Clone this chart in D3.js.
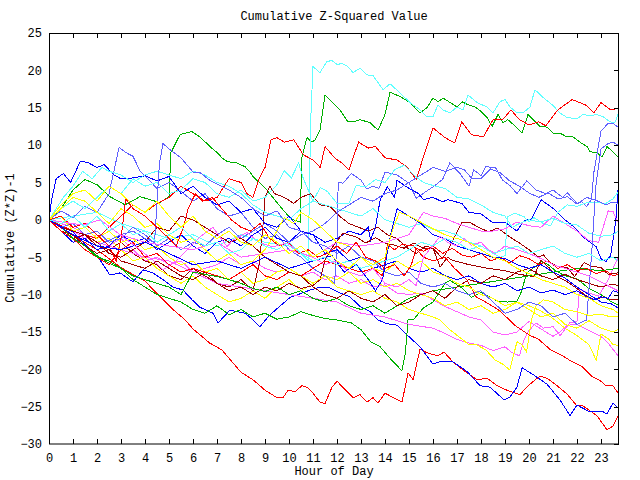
<!DOCTYPE html>
<html>
<head>
<meta charset="utf-8">
<script src="https://cdn.jsdelivr.net/npm/d3@7"></script>
<style>
  body { margin: 0; background: #fff; }
  text { font-family: "Liberation Mono", monospace; font-size: 12px; fill: #000; }
</style>
</head>
<body>
<div id="chart"></div>
<script>
// Hour ticks along the bottom, value ticks on the left
var hourTicks = d3.range(0, 24);
var valueTicks = [-30, -25, -20, -15, -10, -5, 0, 5, 10, 15, 20, 25];

// Each series is a list of [hour, cumulative value]
var red1 = [[0,0],[1,-2.1],[2,-4.0],[3,-6.4],[4,-8.2],[4.6,-10.2],[5.17,-12.0],[5.67,-13.4],[6,-14.6],[6.7,-16.5],[7.2,-17.4],[8,-20.4],[8.5,-21.4],[9,-22.8],[9.5,-23.8],[9.75,-23.8],[9.96,-22.8],[10.25,-23.0],[10.54,-22.2],[10.75,-22.4],[11,-23.2],[11.29,-24.4],[11.5,-24.6],[11.79,-22.4],[12,-21.6],[12.67,-23.8],[12.96,-23.4],[13.25,-24.4],[13.5,-23.8],[13.71,-24.5],[14,-23.2],[14.71,-24.4],[14.96,-20.5],[15.17,-21.4],[15.46,-17.3],[15.75,-17.8],[16.2,-18.2],[16.46,-17.7],[16.83,-19.0],[17.25,-20.1],[17.83,-21.4],[18.25,-21.2],[18.67,-22.2],[19.08,-22.8],[19.62,-23.4],[19.96,-22.2],[20.46,-20.9],[20.75,-21.2],[21.17,-22.2],[21.58,-23.3],[22,-24.9],[22.25,-24.9],[22.83,-26.2],[23.25,-28.1],[23.5,-27.6],[23.71,-26.2]];
var red2 = [[0,0],[1,-1.5],[2,-2.5],[3,0.5],[3.5,2],[4,1],[4.5,2.2],[5,3.0],[5.5,4.5],[6,3.5],[6.5,2.5],[7,3.0],[7.5,5.5],[8,5.0],[8.25,3.5],[8.5,3.0],[8.75,5.5],[9,7.0],[9.25,10.7],[9.5,11.0],[9.8,10.4],[10.2,10.7],[10.6,8.7],[11,8.0],[11.3,7.0],[11.5,9.8],[11.9,8.3],[12.2,7.6],[12.5,6.7],[12.9,10.4],[13.3,9.6],[13.6,9.8],[14,8.3],[14.5,8.0],[14.9,7.1],[15.3,5.4],[15.6,8.4],[16,12.3],[16.5,11.0],[16.9,10.3],[17.2,13.1],[17.6,11.4],[18.1,11.1],[18.5,13.4],[18.9,13.4],[19.25,14.7],[19.6,13.4],[20,12.7],[20.4,13.1],[20.7,12.6],[21.2,14.7],[21.8,16.1],[22.4,15.3],[22.7,14.3],[23,15.7],[23.4,14.7],[23.71,14.9]];
var red3 = [[0,0],[0.5,-1.5],[1,-2.5],[1.5,-4.0],[2,-5.0],[2.5,-6.0],[3,-4.0],[3.5,-3.0],[4,-5.0],[4.5,-4.5],[5,-6.0],[5.5,-7.0],[6,-6.5],[7,-7.5],[7.5,-8.0],[8,-7.0],[8.5,-6.0],[9,-7.5],[9.5,-8.0],[10,-7.0],[10.5,-7.5],[11,-6.5],[11.5,-5.5],[12,-6.0],[12.5,-6.5],[13,-7.0],[13.5,-6.5],[13.9,-7.5],[14.1,-3.3],[14.4,-4.0],[14.7,-3.3],[15.2,-3.5],[15.6,-5.0],[16,-5.5],[16.5,-5.0],[16.9,-6.5],[17.4,-8.0],[17.8,-10.3],[18.3,-11.2],[18.8,-12.2],[19.4,-14.1],[20,-15.4],[20.4,-16.0],[20.9,-17.4],[21.4,-18.2],[21.8,-19.0],[22.2,-19.6],[22.6,-20.9],[23,-21.6],[23.2,-22.2],[23.5,-22.2],[23.71,-23.2]];
var red4 = [[0,0],[0.5,0.5],[1,-1.0],[1.5,-0.5],[2,-2.0],[2.5,-3.5],[2.8,-5.5],[3,-2.5],[3.2,2.8],[3.5,1.5],[4,0.5],[4.5,-1.0],[5,-2.5],[5.3,-3.5],[5.6,-1.0],[5.8,1.5],[6.1,3.5],[6.4,2.5],[6.8,3.0],[7.2,1.5],[7.6,0.0],[8,-1.0],[8.4,-1.5],[8.8,-0.5],[9.2,-2.5],[9.6,-3.5],[10,-3.0],[10.4,-4.5],[10.8,-4.0],[11.2,-5.0],[11.6,-4.5],[12,-3.5],[12.4,-4.5],[12.8,-3.0],[13.2,-5.0],[13.6,-5.5],[14,-6.5],[14.4,-6.0],[14.8,-7.5],[15.1,-6.0],[15.3,-3.8],[15.6,-4.2],[16,-3.5],[16.4,-4.5],[16.8,-3.8],[17.2,-4.7],[17.6,-5.0],[18,-4.5],[18.4,-5.5],[18.8,-5.0],[19.2,-5.8],[19.6,-4.8],[20,-5.2],[20.4,-6.0],[20.8,-5.5],[21.2,-6.5],[21.6,-6.0],[22,-6.8],[22.4,-6.5],[22.8,-7.2],[23.2,-6.8],[23.5,-7.5],[23.71,-7.3]];

var green1 = [[0,0],[0.46,1.3],[1,4.0],[1.5,5.4],[2,4.7],[2.54,3.1],[3.17,2.0],[3.79,3.1],[4.62,2.3],[5,3.1],[5.08,9.0],[5.46,11.4],[5.67,11.6],[5.96,11.8],[6.29,11.1],[6.71,9.8],[7,9.0],[7.21,8.3],[7.42,7.8],[7.83,7.6],[8.17,7.1],[8.38,6.4],[8.5,5.8],[9.08,4.0],[9.5,2.3],[9.92,0.7],[10.17,0],[10.46,-0.3],[10.54,8.4],[10.75,11.0],[10.96,10.4],[11.08,10.7],[11.29,12.0],[11.5,16.7],[11.79,15.8],[12.12,14.7],[12.46,13.1],[12.67,13.1],[12.96,13.4],[13.38,13.0],[13.71,12.0],[14,14.1],[14.21,17.1],[14.62,16.5],[15.04,15.7],[15.46,14.3],[15.75,15.0],[16,16.3],[16.21,15.8],[16.42,16.3],[16.71,15.7],[17,15.1],[17.21,15.8],[17.46,15.4],[17.75,15.1],[18,14.5],[18.25,13.7],[18.46,12.5],[18.71,14.1],[18.92,13.0],[19.12,13.4],[19.33,12.8],[19.71,11.6],[19.96,14.1],[20.17,13.4],[20.46,12.5],[20.75,12.4],[21,11.6],[21.29,11.6],[21.58,11.1],[21.83,11.1],[22.12,10.4],[22.42,9.8],[22.54,9.1],[22.83,9.0],[23.04,8.4],[23.25,9.8],[23.5,9.1],[23.71,8.4]];
var green2 = [[0,0],[0.5,-1.5],[1,-2.5],[1.5,-3.5],[2,-4.8],[2.5,-5.8],[3,-6.5],[3.5,-8],[4,-9],[4.5,-10],[5,-10.5],[5.5,-11],[6,-12],[6.5,-12.5],[7,-11.5],[7.5,-12.7],[8,-12],[8.5,-13],[9,-12.5],[9.5,-13.3],[10,-13],[10.5,-12.3],[11,-12.8],[11.5,-13.2],[12,-13.4],[12.3,-13.6],[12.6,-13.8],[13,-14.7],[13.4,-16.3],[13.8,-17],[14.2,-18.5],[14.5,-19.5],[14.7,-20.2],[14.85,-17.8],[14.96,-13.4],[15.2,-13.3],[15.6,-11.8],[16,-11],[16.2,-10],[16.5,-8.5],[16.7,-8.1],[17.2,-9.1],[17.6,-10.4],[18,-9.7],[18.3,-10.2],[18.7,-10.9],[19.1,-11],[19.5,-10.9],[19.7,-9.5],[19.9,-7.1],[20.2,-6.4],[20.5,-5.6],[20.8,-6.0],[21.1,-6.8],[21.5,-7.5],[22,-7.9],[22.5,-9.2],[23,-10.0],[23.4,-10.9],[23.71,-11.4]];
var green3 = [[0,0],[0.5,-1],[1,-2.5],[1.5,-3.5],[2,-5.0],[2.5,-5.5],[3,-6.5],[3.5,-7.5],[4,-8.0],[4.5,-8.5],[5,-9.0],[5.5,-10.0],[6,-7.0],[6.5,-7.3],[7,-7.6],[7.5,-8.0],[8,-8.5],[8.5,-9.2],[9,-9.6],[9.5,-9.0],[10,-10.0],[10.5,-9.5],[11,-10.5],[11.5,-11.0],[12,-10.5],[12.5,-11.5],[13,-12.0],[13.5,-11.5],[14,-12.5],[15,-10.5],[16,-9.5],[17,-9.0],[18,-8.5],[19,-8.0],[20,-7.5],[21,-7.0],[22,-6.5],[23,-6.8],[23.71,-6.5]];

var blue1 = [[0,0],[1,-1.6],[2.13,-5.4],[2.54,-7.4],[2.96,-7.1],[3.5,-8.3],[3.92,-6.7],[4.33,-7.1],[4.75,-8.0],[5.17,-9.0],[5.58,-9.4],[5.96,-10.7],[6.29,-11.7],[6.83,-12.5],[7.04,-13.8],[7.54,-12.1],[8.17,-12.5],[8.5,-13.4],[8.79,-14.3],[9.21,-12.7],[10.04,-10.4],[10.88,-9.4],[11.29,-9.0],[11.71,-9.1],[12.12,-9.8],[12.54,-10.3],[12.96,-11.6],[13.38,-12.3],[13.71,-13.4],[14.08,-13.9],[14.5,-14.1],[14.92,-15.4],[15.46,-17.0],[16,-19.3],[16.29,-19.0],[16.83,-19.0],[17.42,-20.3],[17.96,-22.2],[18.38,-22.4],[18.96,-24.1],[19.21,-23.7],[19.5,-22.4],[19.71,-19.8],[20.17,-20.7],[20.75,-22.0],[21.29,-24.1],[21.71,-26.2],[22,-24.8],[22.54,-25.7],[23.04,-25.6],[23.25,-26.0],[23.5,-24.5],[23.71,-25.2]];
var blue2 = [[0,0],[0.5,-1.5],[1,-3],[1.5,-2.5],[2,-4],[2.5,-3.5],[3,-2],[3.5,-3],[4,-2.5],[4.5,-4],[5,-3],[5.5,-2],[6,-3.5],[6.5,-4.5],[7,-3],[7.5,-2.5],[8,-3.5],[8.5,-2],[9,-1.0],[9.5,-2.5],[10,-3],[10.5,-1.5],[11,-2],[11.5,-3.0],[12,-2.5],[12.5,-1.5],[13,-2.0],[13.3,-1.0],[13.4,-2.7],[13.6,-1.0],[13.8,2.7],[14.1,4.4],[14.4,3.0],[14.5,5.3],[14.9,4.4],[15.4,3.5],[15.6,2.7],[16,3.0],[16.4,2.4],[16.6,2.7],[17.2,2.2],[17.5,1.0],[18,0.8],[18.5,-0.4],[19,-0.3],[19.5,-1.5],[19.8,-0.1],[20.1,0.1],[20.5,2.7],[20.8,2.0],[21.1,1.3],[21.5,0],[21.9,-1.0],[22.3,-2.4],[22.8,-3.6],[23,-5.2],[23.2,-5.6],[23.4,-4.8],[23.5,-2.7],[23.62,0],[23.71,4.0]];
var blue3 = [[0,0],[0.1,2.6],[0.3,5.5],[0.6,6.2],[0.9,5.0],[1.3,7.8],[1.6,7.7],[2,7.0],[2.3,7.4],[2.7,6.0],[3,5.5],[3.5,5.6],[4,5.9],[4.5,5.2],[5,5.8],[5.5,3.5],[6,4.5],[6.5,3.0],[7,2.0],[7.5,2.5],[8,1.0],[8.5,1.5],[9,-0.5],[9.5,-1.0],[10,0.5],[10.5,-1.5],[11,-2.0],[11.5,-4.5],[12,-4.0],[12.5,-5.5],[13,-5.0],[13.5,-6.5],[14,-6.0],[14.5,-5.5],[15,-6.5],[15.5,-7.0],[16,-6.5],[16.5,-7.5],[17,-8.0],[17.5,-7.5],[18,-8.5],[18.5,-9.0],[19,-8.5],[19.5,-9.5],[20,-9.0],[20.5,-9.8],[21,-9.4],[21.5,-10.0],[22,-9.5],[22.4,-10.3],[22.7,-10.7],[23,-10.3],[23.3,-10.5],[23.5,-9.5],[23.71,-9.7]];
var blue4 = [[0,0],[1,-2],[2,-3.5],[3,-4],[4,-3],[5,-4.5],[6,-6],[7,-5.5],[8,-6.5],[9,-5],[10,-6.5],[11,-5.5],[11.8,-4.8],[12.3,-7],[12.8,-6],[13.3,-8.0],[13.6,-9.5],[13.9,-8.0],[14.2,-2.5],[14.5,1.5],[15,0.5],[15.5,-0.5],[16,-2.0],[16.5,-2.5],[17,-3.5],[17.5,-4.0],[18,-4.5],[18.5,-5.0],[19,-5.2],[19.5,-6.0],[20,-6.5],[20.5,-6.0],[21,-7.0],[21.5,-7.8],[22,-9.0],[22.5,-10.0],[23,-11.0],[23.4,-11.2],[23.71,-11.8]];

var magenta1 = [[0,0],[0.5,-1],[1,-1.5],[1.5,-2.5],[2,-2.0],[2.5,-3.5],[3,-2.5],[3.5,-4.0],[4,-5.5],[4.5,-5],[5,-6],[5.5,-5.5],[6,-7],[6.5,-6.5],[7,-6.0],[7.5,-5.0],[8,-6.0],[8.5,-5.5],[9,-6.5],[9.5,-7.0],[10,-6.5],[10.5,-7.5],[11,-7.0],[11.5,-8.0],[12,-7.5],[12.5,-8.5],[13,-8.0],[13.5,-9.0],[14,-8.7],[14.5,-9.8],[15,-10],[15.5,-9.8],[16,-10.7],[16.5,-11.6],[17,-12.3],[17.5,-13],[18,-13.4],[18.5,-15],[19,-15.4],[19.5,-15],[20,-13.6],[20.5,-14.6],[21,-15.6],[21.3,-15],[21.6,-14.1],[22,-14],[22.5,-14.8],[23,-15.6],[23.3,-16.5],[23.71,-18.2]];
var magenta2 = [[0,0],[1,-1.0],[2,-3.0],[3,-4],[4,-5],[5,-5.5],[6,-7],[7,-8.5],[8,-9],[9,-9.5],[10,-10],[11,-10.5],[12,-11],[13,-12.5],[14,-13],[15,-14],[16,-14.5],[16.5,-15.2],[17,-16.0],[17.5,-16.5],[18,-16.8],[18.5,-17.5],[19,-17.0],[19.3,-17.8],[19.6,-18.2],[19.8,-16],[20,-14.8],[20.3,-13.8],[20.6,-14.5],[21,-14.3],[21.3,-15.5],[21.7,-13.8],[22,-13.6],[22.1,-9.3],[22.5,-9.8],[22.9,-10.2],[23.3,-8.0],[23.71,-5.0]];
var magenta3 = [[0,0],[1,-2],[2,-3.5],[3,-2],[4,-3],[5,-3.5],[6,-4],[7,-3],[8,-5],[9,-4.5],[10,-4],[11,-5],[12,-3],[13,-3.5],[14,-3],[15,-2],[15.6,1.0],[16,0.5],[16.5,0.2],[17,-0.5],[17.5,-1.0],[18,-1.5],[18.5,-1.5],[19,-1.2],[19.5,-0.3],[20,-0.8],[20.5,-1.0],[21,0.5],[21.5,-0.5],[22,-1.5],[22.5,-2.8],[22.9,-3.0],[23.3,1.2],[23.5,1.1],[23.71,-0.3]];
var magenta4 = [[0,0],[0.75,-0.4],[1.42,-0.7],[2.13,0],[2.67,-1.3],[3.25,-2.7],[3.79,-4.0],[4.33,-5.4],[4.75,-6.7],[5.33,-5.4],[5.88,-3.6],[6.29,-2.3],[6.83,-1.0],[7.42,-3.6],[7.67,-2.7],[8.25,-1.7],[8.79,-3.1],[9.33,-3.6],[9.92,-3.1],[10.46,-4.4],[11,-5.0],[11.5,-6],[12,-5.5],[12.5,-7],[13,-7.5],[13.5,-6.5],[14,-8.5],[14.5,-9.0],[15,-8.0],[15.3,-8.8],[15.6,-5.0],[16,-3.4],[16.3,-2.2],[16.6,-3.0],[17,-3.5],[17.3,-2.5],[17.6,-3.4],[18,-3.0],[18.3,-4.0],[18.6,-4.5],[19,-3.5],[19.5,-4.0],[20,-4.5],[20.5,-5.2],[21,-6.0],[21.5,-6.5],[22,-7.0],[22.5,-7.5],[23,-8.3],[23.4,-9.0],[23.71,-9.5]];

var cyan1 = [[0,0],[1,0.5],[2,1.0],[3,-0.5],[4,-1.5],[5,-2.5],[6,-2.0],[7,-3.5],[8,-2.0],[9,-3.0],[10,-3.5],[10.5,-4.5],[10.8,-5.5],[10.9,13],[11,20.5],[11.29,19.7],[11.58,21.2],[11.79,21.3],[12,20.8],[12.21,20.9],[12.42,20.6],[12.67,19.7],[12.96,20.3],[13.25,19.4],[13.5,19.3],[13.92,17.4],[14.21,18.2],[14.62,17.0],[15.04,15.7],[15.46,14.7],[15.75,13.8],[16,13.8],[16.21,15.4],[16.42,14.7],[16.71,14.3],[17,15.1],[17.25,14.7],[17.46,16.7],[17.83,15.7],[18.25,15.1],[18.5,14.3],[18.79,15.8],[19,16.1],[19.21,15.1],[19.5,14.3],[19.75,14.3],[20.04,15.1],[20.25,17.4],[20.58,16.4],[21,15.3],[21.29,14.3],[21.58,13.7],[22,13.5],[22.25,14.1],[22.54,13.9],[22.83,14.1],[23.08,13.8],[23.38,13.1],[23.58,13.0],[23.71,14.1]];
var cyan2 = [[0,0],[0.5,1.5],[1,2.5],[1.5,1.5],[2,3.0],[2.5,4.5],[3,3.5],[3.5,5.5],[4,4.5],[4.5,5.0],[5,3.5],[5.5,4.0],[6,5.5],[6.5,5.0],[7,3.5],[7.5,3.0],[8,4.0],[8.5,2.5],[9,3.0],[9.5,4.7],[9.8,6.6],[10.1,5.6],[10.4,7.6],[10.6,5.5],[10.8,4.0],[11,2.5],[11.5,2.0],[12,1.5],[12.5,1.0],[13,0.5],[13.5,1.5],[14,0.0],[14.5,-0.5],[15,-1.0],[15.5,-0.5],[16,-1.3],[16.5,-1.5],[17,-2.0],[17.5,-3.0],[18,-3.5],[18.5,-4.5],[18.8,-5.0],[19,-4.8],[19.1,0.4],[19.4,0.9],[19.8,0.4],[20,-0.3],[20.2,0.3],[20.6,-0.5],[20.9,-0.8],[21.2,1.0],[21.6,2.0],[22,1.8],[22.4,2.3],[22.8,2.3],[23.2,2.2],[23.5,2.8],[23.71,3.7]];
var cyan3 = [[0,0],[0.3,1.5],[0.6,3.0],[1,4.5],[1.4,6.5],[1.8,5.5],[2.2,7.0],[2.5,6.5],[3,6.0],[3.5,5.0],[4,6.0],[4.5,6.5],[5,6.0],[5.5,5.5],[6,6.5],[6.5,6.0],[7,5.0],[7.5,4.5],[8,3.5],[8.5,2.0],[9,1.0],[9.5,0.5],[10,0.0],[10.5,1.5],[11,2.5],[11.3,4.3],[11.6,3.8],[12,2.2],[12.5,2.2],[12.8,4.6],[13.2,4.4],[13.6,5.4],[14,5.0],[14.4,6.7],[14.8,7.3],[15.2,6.0],[15.6,5.0],[16,4.6],[16.5,4.2],[17,3.0],[17.5,2.8],[18,2.0],[18.5,1.0],[19,0.5],[19.3,-1.0],[19.6,-0.5],[20,0.0],[20.5,-0.3],[21,0.2],[21.5,-0.5],[22,-0.7],[22.5,-1.8],[23,-2.2],[23.5,-2.0],[23.71,-1.5]];
var cyan4 = [[0,0],[0.5,-0.5],[1,0.5],[1.5,-1],[2,0.5],[2.5,-1.5],[3,-0.5],[3.5,-2.0],[4,-1.5],[4.5,-3.0],[5,-2.0],[5.5,-1.0],[6,-2.5],[6.5,-3.5],[7,-3.0],[7.5,-4.5],[8,-4.0],[8.5,-2.5],[9,-3.5],[9.5,-4.0],[10,-3.0],[10.5,-4.5],[11,-5.5],[11.5,-5.0],[12,-6.0],[12.5,-5.5],[13,-6.5],[13.5,-6.0],[14,-5.5],[14.5,-5.0],[15,-4.0],[15.5,-3.0],[16,-3.5],[16.5,-2.5],[17,-3.0],[17.5,-4.0],[18,-3.5],[18.5,-4.5],[19,-4.0],[19.5,-3.5],[20,-4.5],[20.5,-4.0],[21,-3.5],[21.5,-4.5],[22,-5.0],[22.5,-4.5],[23,-5.5],[23.5,-5.0],[23.71,-5.5]];

var darkred1 = [[0,0],[0.5,-1.0],[1,-2.5],[1.5,-2.0],[2,-3.5],[2.5,-4.0],[3,-3.0],[3.5,-4.5],[4,-5.5],[4.5,-6.0],[5,-7.5],[5.5,-8.0],[6,-6.5],[6.5,-7.5],[7,-8.5],[7.5,-9.0],[8,-8.0],[8.5,-9.5],[8.75,-6.0],[8.9,-1.5],[9,3.0],[9.2,4.5],[9.4,3.5],[9.8,3.0],[10.2,2.2],[10.5,3.0],[10.9,3.5],[11.3,2.0],[11.7,1.8],[12.1,0.5],[12.5,-0.5],[12.9,-1.0],[13.3,-1.5],[13.7,-1.0],[14.1,-2.0],[14.5,-2.5],[14.9,-3.7],[15.3,-4.5],[15.7,-3.5],[16,-3.8],[16.4,-5.2],[16.7,-3.6],[17.2,-0.3],[17.5,-0.3],[17.9,-1.0],[18.3,-1.6],[18.7,-1.1],[19.2,-2.3],[19.6,-3.1],[20,-4.0],[20.4,-5.0],[20.6,-4.7],[20.9,-5.8],[21.3,-6.4],[21.6,-6.4],[21.9,-7.6],[22.3,-5.7],[22.6,-6.2],[23,-6.4],[23.3,-7.3],[23.71,-7.1]];
var darkred2 = [[0,0],[0.5,-1.5],[1,-2.0],[1.5,-3.5],[2,-4.5],[2.5,-4.0],[3,-5.5],[3.5,-6.0],[4,-6.5],[4.5,-5.5],[5,-6.5],[5.5,-7.5],[6,-8.0],[6.5,-7.0],[7,-8.5],[7.5,-9.5],[8,-9.0],[8.5,-10.0],[9,-9.0],[9.5,-9.5],[10,-8.5],[10.5,-9.2],[11,-8.8],[11.3,-8.0],[11.5,-5.4],[11.8,-3.7],[12.25,-1.8],[12.8,-2.3],[13.2,-3.1],[13.6,-2.4],[14,-3.1],[14.4,-3.4],[14.8,-3.8],[15.2,-3.1],[15.6,-3.8],[16,-3.8],[16.3,-6.3],[16.6,-5.0],[16.8,-5.4],[17.5,-6.0],[18.3,-6.5],[19,-6.8],[19.6,-7.3],[20.2,-7.6],[20.5,-5.4],[20.8,-6.3],[21.2,-7.6],[21.6,-8.3],[22,-9.2],[22.3,-10.0],[22.7,-10.7],[23.1,-10.3],[23.4,-10.7],[23.71,-10.7]];
var darkred3 = [[0,0],[0.5,-1],[1,-1.5],[1.5,-2],[2,-3],[2.5,-4.5],[3,-5],[3.5,-4],[4,-3],[4.5,-1.0],[5,-1.5],[5.5,0.5],[6,0.0],[6.5,-1.0],[7,-2.0],[7.5,-3.0],[8,-2.5],[8.5,-3.5],[9,-5.0],[9.5,-6.0],[10,-7.0],[10.5,-7.5],[11,-9],[11.5,-10],[12,-10.5],[12.5,-9.5],[13,-10.5],[13.5,-11],[14,-10],[14.5,-11.5],[15,-11.0],[15.5,-10],[16,-9.5],[16.5,-10.5],[17,-9.0],[17.5,-8.0],[18,-8.5],[18.5,-7.5],[19,-8.0],[19.5,-7.0],[20,-6.5],[20.5,-7.5],[21,-8.0],[21.5,-7.3],[22,-8.0],[22.5,-8.5],[23,-9.0],[23.5,-8.6],[23.71,-8.8]];

var yellow1 = [[0,0],[0.5,-1],[1,-0.5],[1.5,-2],[2,-3],[2.5,-2.5],[3,-4],[3.5,-5.5],[4,-5],[4.5,-6.5],[5,-7.5],[5.5,-8.5],[6,-7.5],[6.5,-9],[7,-10],[7.5,-11],[8,-10.5],[8.5,-9.5],[9,-10.5],[9.5,-9.0],[10,-8.0],[10.5,-9.5],[11,-8.5],[11.5,-7.5],[12,-8.0],[12.5,-7.0],[13,-8.5],[13.5,-8.0],[14,-9.0],[14.5,-8.5],[15,-9.5],[15.5,-10.0],[16,-10.5],[16.5,-11.5],[17,-11.0],[17.5,-12.0],[18,-11.5],[18.5,-12.5],[19,-12.0],[19.5,-11.0],[20,-11.5],[20.5,-12.2],[21,-13.2],[21.5,-14.5],[22,-15.5],[22.5,-16.7],[22.8,-18.8],[23,-15.3],[23.3,-15.9],[23.5,-16.7],[23.71,-16.8]];
var yellow2 = [[0,0],[0.5,0.5],[1,-1.5],[1.5,-1.0],[2,-2.5],[2.5,-1.5],[3,-3.0],[3.5,-2.5],[4,-4.0],[4.5,-3.5],[5,-5.0],[5.5,-6.0],[6,-5.5],[6.5,-7.0],[7,-6.5],[7.5,-8.0],[8,-7.0],[8.5,-8.5],[9,-8.0],[9.5,-7.0],[10,-6.5],[10.5,-7.5],[11,-8.5],[11.5,-7.5],[12,-9.0],[12.5,-9.5],[13,-10.0],[13.5,-9.5],[14,-10.5],[14.5,-11.0],[15,-12.0],[15.5,-12.5],[16,-13.0],[16.3,-13.4],[16.7,-14.7],[17.1,-15.7],[17.5,-16.7],[17.8,-16.7],[18.2,-17.4],[18.6,-18.8],[18.9,-19.3],[19.2,-20.1],[19.5,-16.3],[19.7,-16.7],[19.9,-17.7],[20.1,-13.4],[20.3,-11.5],[20.6,-10.7],[21,-11.0],[21.5,-12.0],[22,-12.3],[22.5,-12.8],[23,-12.6],[23.4,-13.0],[23.71,-13.0]];
var yellow3 = [[0,0],[0.5,1.5],[1,3],[1.5,2.5],[2,1],[2.5,-0.5],[3,1.5],[3.5,0.5],[4,-1],[4.5,-0.5],[5,-2.0],[5.5,-3],[6,-2.5],[6.5,-4.0],[7,-5.5],[7.5,-4.5],[8,-6],[8.5,-5.5],[9,-4.0],[9.5,-1.5],[9.8,0.3],[10.2,-0.5],[10.5,1.0],[11,0],[11.5,-1.5],[12,-3.0],[12.5,-3.5],[13,-5],[13.5,-6.5],[14,-7.0],[14.5,-5.5],[15,-6.5],[15.5,-5.5],[16,-7.0],[16.5,-7.5],[17,-8.5],[17.5,-9.0],[18,-10.0],[18.5,-10.5],[19,-11.5],[19.5,-11.0],[20,-12.0],[20.5,-13.0],[21,-12.5],[21.5,-14],[22,-14.5],[22.5,-13.5],[23,-14.5],[23.5,-15],[23.71,-14.7]];
var yellow4 = [[0,0],[0.5,2.0],[1,3.5],[1.5,4.0],[2,2.5],[2.5,4.5],[3,3.5],[3.5,2.0],[4,1.0],[4.5,2.5],[5,0.5],[5.5,-1],[6,0.5],[6.5,-1.5],[7,-2.5],[7.5,-1.5],[8,-3],[8.5,-3.5],[9,-2.0],[9.5,-3.0],[10,-4.5],[10.5,-3.5],[11,-5.0],[11.5,-4.0],[12,-5.5],[12.5,-6.5],[13,-5.0],[13.5,-6.0],[14,-5.0],[14.3,-1.5],[14.6,1.0],[15,0.5],[15.3,0.0],[15.6,-0.5],[16,-1.2],[16.5,-2.0],[17,-2.5],[17.5,-3.0],[18,-4.0],[18.5,-5.0],[19,-5.5],[19.5,-6.5],[20,-7.2],[20.5,-8.0],[21,-8.5],[21.5,-9.0],[22,-10],[22.5,-10.5],[23,-11.5],[23.5,-12],[23.71,-12.5]];

var slate1 = [[0,0],[0.5,1.2],[1,0.3],[1.5,1.8],[2,1.0],[2.5,3.5],[2.92,9.7],[3.2,9.0],[3.5,8.5],[3.8,6.5],[4.2,5.2],[4.5,4.2],[5,5.0],[5.5,3.8],[6,2.5],[6.5,3.5],[7,1.5],[7.5,0.5],[8,1.0],[8.5,-1.0],[9,-2.5],[9.5,-2.0],[10,-4.0],[10.5,-5.0],[11,-6.5],[11.5,-7.5],[11.9,-8.5],[12,-3.0],[12.05,5.0],[12.25,4.9],[12.6,6.2],[13,5.3],[13.25,4.1],[13.5,4.5],[13.75,4.2],[14,6.4],[14.5,6.0],[15,4.9],[15.3,2.9],[15.5,3.3],[15.8,4.0],[16,4.4],[16.4,5.4],[16.7,7.6],[17.1,6.3],[17.5,4.5],[17.7,6.7],[18,5.9],[18.2,7.1],[18.6,7.0],[18.9,5.3],[19.2,4.6],[19.5,3.5],[19.9,5.2],[20.3,4.0],[20.7,3.5],[21,4.0],[21.4,3.0],[21.6,3.6],[22,2.2],[22.2,2.4],[22.4,1.8],[22.6,2.7],[22.7,6.3],[23,11.9],[23.3,12.9],[23.5,12.9],[23.71,12.4]];
var slate2 = [[0,0],[0.5,-1],[1,-0.5],[1.5,-2],[2,-1.5],[2.5,-3],[3,-2.5],[3.5,-1.0],[4,-2.0],[4.5,-3.5],[5,-2.5],[5.5,-4.0],[6,-3.0],[6.5,-3.5],[7,-2.0],[7.5,-1.0],[8,-2.5],[8.5,-1.5],[9,-0.5],[9.5,-1.5],[10,-3],[10.5,-2.0],[11,-1.5],[11.5,-0.5],[12,1.0],[12.5,2.0],[13,3.0],[13.5,2.5],[14,3.5],[14.5,4.0],[15,5.0],[15.5,6.0],[16,7.0],[16.5,6.5],[17,7.0],[17.3,6.7],[17.6,5.6],[18,5.5],[18.4,6.8],[18.8,6.3],[19.2,5.2],[19.6,4.5],[20,3.6],[20.4,3.0],[20.8,3.6],[21.2,2.8],[21.6,3.1],[22,2.1],[22.4,3.0],[22.8,2.6],[23.2,2.0],[23.5,2.4],[23.71,2.2]];
var slate3 = [[0,0],[1,-2],[2,-3.5],[3,-2],[3.5,-1.5],[4,-2.5],[4.4,-3],[4.6,7.5],[4.75,10.2],[5,9.5],[5.5,8.3],[6,6.4],[6.3,6.3],[6.7,5.3],[7.5,4.0],[8,3],[8.5,1.5],[9,0.5],[9.5,1.2],[10,-1],[10.5,-1.5],[11,-3.0],[11.5,-3.5],[12,-4.5],[12.5,-3.5],[13,-5],[13.5,-5.5],[14,-7],[14.5,-7.5],[15,-7],[15.5,-8.5],[16,-9],[16.5,-8.5],[17,-9.5],[17.5,-10],[18,-9.5],[18.5,-11],[19,-12.5],[19.5,-12],[20,-11],[20.5,-11.5],[21,-13],[21.5,-12.5],[22,-14],[22.4,-13.4],[22.6,-5],[22.8,5.0],[23,9.5],[23.3,10.2],[23.5,10.4],[23.71,10.0]];

var seriesList = [red1, green1, blue1, magenta1, cyan1, darkred1, yellow1, slate1,
                  red2, green2, blue2, magenta2, cyan2, darkred2, yellow2, slate2,
                  red3, green3, blue3, magenta3, cyan3, darkred3, yellow3, slate3,
                  red4, blue4, magenta4, cyan4, yellow4];

// gnuplot-like line colours, same order as seriesList
var lineColors = ['#ff0000', '#00b000', '#0000ff', '#ff60ff', '#60ffff', '#a00000', '#ffff00', '#6060ff'];
var seriesColor = seriesList.map(function(d, i) { return lineColors[i % 8]; });
seriesColor[24] = '#ff0000'; seriesColor[25] = '#0000ff'; seriesColor[26] = '#ff60ff';
seriesColor[27] = '#60ffff'; seriesColor[28] = '#ffff00';

var width = 640, height = 480;
var svg = d3.select('#chart')
  .append('svg')
  .attr('width', width)
  .attr('height', height);

var x = d3.scaleLinear().domain([0, 23.75]).range([49, 619]);
var y = d3.scaleLinear().domain([-30, 25]).range([444, 33]);

// Lines
var line = d3.line()
  .x(function(d) { return x(d[0]); })
  .y(function(d) { return y(d[1]); });

svg.append('g')
  .selectAll('path')
  .data(seriesList)
  .enter()
  .append('path')
  .attr('d', line)
  .attr('fill', 'none')
  .attr('stroke', function(d, i) { return seriesColor[i]; })
  .attr('stroke-width', 1)
  .style('shape-rendering', 'crispEdges');

// Bottom axis: ticks point inward
svg.append('g')
  .attr('transform', 'translate(0,444)')
  .call(d3.axisBottom(x).tickValues(hourTicks).tickSize(-5).tickPadding(9).tickFormat(d3.format('d')))
  .call(function(g) { g.select('.domain').remove(); });

// Top mirror ticks
svg.append('g')
  .attr('transform', 'translate(0,33)')
  .call(d3.axisTop(x).tickValues(hourTicks).tickSize(-5).tickFormat(''))
  .call(function(g) { g.select('.domain').remove(); });

// Left axis labels (no tick marks)
svg.append('g')
  .attr('transform', 'translate(49,0)')
  .call(d3.axisLeft(y).tickValues(valueTicks).tickSize(0).tickPadding(7))
  .call(function(g) { g.select('.domain').remove(); });

// Right mirror ticks
svg.append('g')
  .attr('transform', 'translate(619,0)')
  .call(d3.axisRight(y).tickValues(valueTicks).tickSize(-5).tickFormat(''))
  .call(function(g) { g.select('.domain').remove(); });

svg.selectAll('.tick line').attr('stroke', '#000').style('shape-rendering', 'crispEdges');
svg.selectAll('.tick text')
  .style('font-family', '"Liberation Mono", monospace')
  .style('font-size', '12px')
  .attr('fill', '#000');

// Plot border
svg.append('rect')
  .attr('x', 49.5).attr('y', 33.5)
  .attr('width', 569).attr('height', 410.5)
  .attr('fill', 'none')
  .attr('stroke', '#000')
  .attr('stroke-width', 1);

// Title and axis labels
svg.append('text')
  .attr('x', 334).attr('y', 20)
  .attr('text-anchor', 'middle')
  .text('Cumulative Z-Squared Value');

svg.append('text')
  .attr('x', 334).attr('y', 475)
  .attr('text-anchor', 'middle')
  .text('Hour of Day');

svg.append('text')
  .attr('transform', 'translate(14,238) rotate(-90)')
  .attr('text-anchor', 'middle')
  .text('Cumulative (Z*Z)-1');
</script>
</body>
</html>
